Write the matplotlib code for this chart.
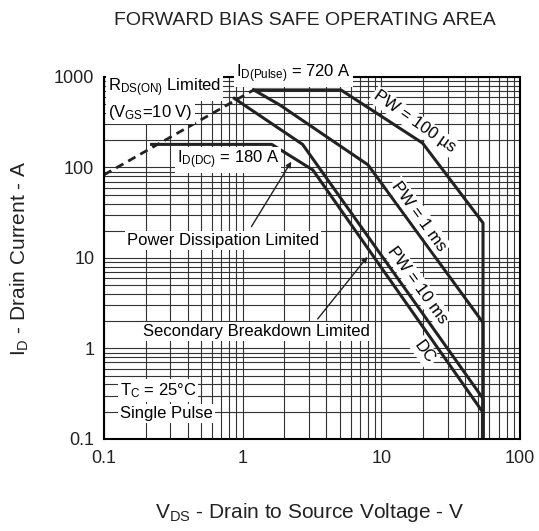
import matplotlib
matplotlib.use('Agg')
import matplotlib.pyplot as plt
from matplotlib.ticker import FixedLocator, NullFormatter

plt.rcParams['font.family'] = ['Liberation Sans', 'DejaVu Sans']
plt.rcParams['mathtext.fontset'] = 'custom'
plt.rcParams['mathtext.rm'] = 'Liberation Sans'

# limites
rds_v = [0.1, 1.2]
rds_i = [83, 720]

pw100us_v = [1.2, 5.1, 19.8, 54, 54]
pw100us_i = [720, 720, 186, 24.4, 0.1]

pw1ms_v = [1.2, 1.85, 8.0, 54, 54]
pw1ms_i = [720, 491, 107, 1.93, 0.1]

pw10ms_v = [0.87, 2.7, 54, 54]
pw10ms_i = [580, 180, 0.28, 0.1]

dc_v = [0.22, 1.62, 3.2, 53.5, 53.5]
dc_i = [180, 180, 94, 0.2, 0.1]

x_ticks = [0.1, 1, 10, 100]
x_labels = ['0.1', '1', '10', '100']
y_ticks = [0.1, 1, 10, 100, 1000]
y_labels = ['0.1', '1', '10', '100', '1000']

fig = plt.figure(figsize=(5.39, 5.31), dpi=100)
ax = fig.add_axes([0.193, 0.1733, 0.772, 0.6817])
ax.set_xscale('log')
ax.set_yscale('log')
ax.set_xlim(0.1, 100)
ax.set_ylim(0.1, 1000)

# grade
ax.xaxis.set_minor_locator(FixedLocator([m * 10.0**e for e in range(-1, 2) for m in range(2, 10)]))
ax.yaxis.set_minor_locator(FixedLocator([m * 10.0**e for e in range(-1, 3) for m in range(2, 10)]))
ax.xaxis.set_minor_formatter(NullFormatter())
ax.yaxis.set_minor_formatter(NullFormatter())
ax.grid(True, which='both', color='#333333', linewidth=0.8)
ax.set_axisbelow(True)

ax.set_xticks(x_ticks)
ax.set_xticklabels(x_labels)
ax.set_yticks(y_ticks)
ax.set_yticklabels(y_labels)
ax.tick_params(which='both', length=0, labelsize=13, labelcolor='#222222')
ax.tick_params(axis='x', pad=8)
ax.tick_params(axis='y', pad=7)
for s in ax.spines.values():
    s.set_linewidth(1.5)

lc = '#222222'
ax.plot(rds_v, rds_i, color=lc, lw=2, linestyle=(0, (3, 2)))
ax.plot(pw100us_v, pw100us_i, color=lc, lw=2.2)
ax.plot(pw1ms_v, pw1ms_i, color=lc, lw=2.2)
ax.plot(pw10ms_v, pw10ms_i, color=lc, lw=2.2)
ax.plot(dc_v, dc_i, color=lc, lw=2.2)

box = dict(facecolor='white', edgecolor='none', pad=1.5)
fs = 12

ax.text(0.9, 980, r'$\mathregular{I_{D(Pulse)}}$ = 720 A', fontsize=fs, ha='left', va='baseline', bbox=box)
ax.text(0.107, 756, r'$\mathregular{R_{DS(ON)}}$ Limited', fontsize=fs, ha='left', va='center', bbox=box)
ax.text(0.107, 410, r'($\mathregular{V_{GS}}$=10 V)', fontsize=fs, ha='left', va='center', bbox=box)
ax.text(0.335, 121, r'$\mathregular{I_{D(DC)}}$ = 180 A', fontsize=fs, ha='left', va='center', bbox=box)
ax.text(0.146, 15.8, 'Power Dissipation Limited', fontsize=fs, ha='left', va='center', bbox=box)
ax.text(0.19, 1.53, 'Secondary Breakdown Limited', fontsize=fs, ha='left', va='center', bbox=box)
ax.text(0.13, 0.342, r'$\mathregular{T_C}$ = 25°C', fontsize=fs, ha='left', va='center', bbox=box)
ax.text(0.13, 0.189, 'Single Pulse', fontsize=fs, ha='left', va='center', bbox=box)

ax.text(17.3, 319, 'PW = 100 µs', fontsize=fs, ha='center', va='center', rotation=-35, bbox=box)
ax.text(18.7, 29.1, 'PW = 1 ms', fontsize=fs, ha='center', va='center', rotation=-54, bbox=box)
ax.text(18.2, 5.04, 'PW = 10 ms', fontsize=fs, ha='center', va='center', rotation=-54, bbox=box)
ax.text(20.4, 0.915, 'DC', fontsize=fs, ha='center', va='center', rotation=-54, bbox=box)

arrow = dict(arrowstyle='-|>', color=lc, lw=1, mutation_scale=8, shrinkA=0, shrinkB=0)
ax.annotate('', xy=(2.24, 116), xytext=(1.155, 22.2), arrowprops=arrow)
ax.annotate('', xy=(7.93, 10.3), xytext=(3.47, 2.12), arrowprops=arrow)

fig.text(0.566, 0.962, 'FORWARD BIAS SAFE OPERATING AREA', fontsize=14, ha='center', va='center', color='#222222')
fig.text(0.575, 0.034, r'$\mathregular{V_{DS}}$ - Drain to Source Voltage - V', fontsize=15, ha='center', va='center', color='#222222')
fig.text(0.037, 0.514, r'$\mathregular{I_D}$ - Drain Current - A', fontsize=15, ha='center', va='center', rotation=90, color='#222222')

fig.savefig('out.png', dpi=100)
